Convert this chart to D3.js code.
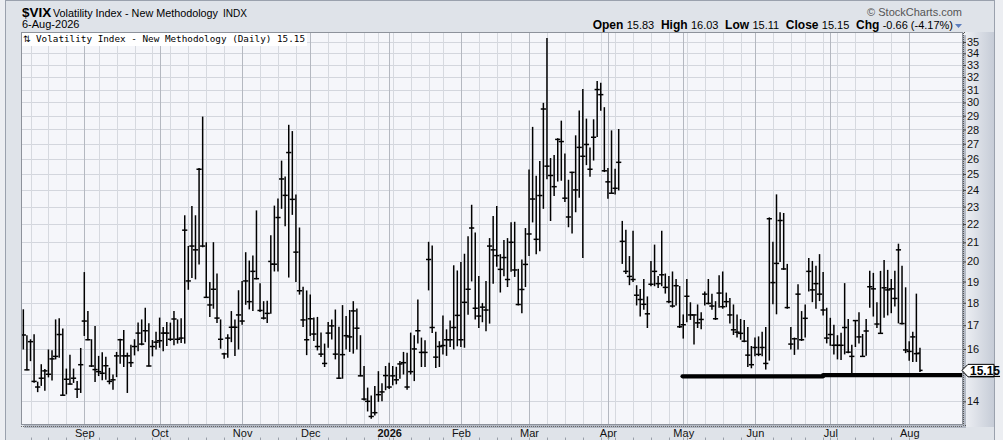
<!DOCTYPE html>
<html><head><meta charset="utf-8">
<script src="https://cdn.jsdelivr.net/npm/d3@7"></script>
<style>body{margin:0;background:#fff}svg{display:block}</style>
</head><body>
<svg id="c" width="1003" height="440"></svg>
<script>
// ---------- DATA ----------
const firstDate = "2025-08-07";
const lastDate = "2026-08-06";
const holidays = ["2025-09-01","2025-11-27","2025-12-25","2026-01-01","2026-01-19","2026-02-16","2026-04-03","2026-05-25","2026-06-19","2026-07-03"];
const monthLabels = ["Sep","Oct","Nov","Dec","2026","Feb","Mar","Apr","May","Jun","Jul","Aug"];
const yTickValues = [14,16,17,18,19,20,21,22,23,24,25,26,27,28,29,30,31,32,33,34,35];
const gridValues = [14,15,16,17,18,19,20,21,22,23,24,25,26,27,28,29,30,31,32,33,34,35];

const highs = [
17.68,16.55,16.38,16.59,14.7,15.37,15.18,15.96,15.93,17.23,
17.28,16.83,15.2,15.75,15.2,14.73,16.02,19.44,17.6,16.38,
16.94,15.7,15.85,15.67,15.23,14.97,15.86,16.4,16.77,15.83,
16.15,16.38,17.09,17.23,17.75,17.06,16.35,16.7,17.31,16.9,
17.12,17.09,17.6,17.23,17.28,22.47,20.78,23.0,22.47,25.35,
28.9,20.98,18.95,20.98,19.37,17.23,15.83,16.59,17.6,17.23,
18.56,19.0,20.45,20.02,20.28,22.75,18.9,18.05,18.07,21.35,
23.03,23.45,25.83,24.8,28.3,27.85,23.69,21.78,18.73,18.55,
18.36,17.31,17.34,16.66,16.2,17.12,17.23,17.67,16.91,17.87,
17.38,17.65,18.05,17.72,16.55,15.3,14.48,14.19,14.54,15.1,
14.64,15.3,15.43,15.3,15.27,15.5,15.86,15.83,16.66,16.55,
18.13,16.45,16.34,21.0,20.8,16.7,16.3,17.4,16.8,17.18,
19.78,19.52,19.95,20.37,21.3,23.08,21.5,19.25,17.97,19.0,
21.2,22.43,23.0,20.35,21.1,21.2,22.07,22.1,19.6,20.07,
21.75,25.25,28.15,24.85,25.8,29.93,35.3,26.0,26.2,27.35,
28.6,26.3,24.6,25.1,27.55,29.35,31.0,28.75,26.7,28.7,
31.65,31.5,29.6,25.35,27.9,25.3,28.0,22.15,21.65,20.25,
21.6,18.8,18.62,19.1,18.27,20.0,20.85,19.25,21.6,19.37,
19.25,19.47,19.1,18.76,17.45,19.1,18.0,17.45,17.9,17.55,
18.5,19.1,18.4,18.05,19.28,19.47,18.45,18.2,17.9,17.45,
17.25,17.2,16.9,16.1,16.45,16.5,16.7,16.9,22.35,21.0,
23.7,22.65,22.6,19.85,16.9,16.45,18.85,17.6,17.9,20.15,
20.0,19.75,20.35,19.45,17.75,17.3,17.0,16.55,16.65,18.9,
17.25,16.15,17.2,17.55,16.6,17.25,19.5,19.4,18.0,19.5,
20.05,19.55,19.1,19.5,20.9,19.75,18.7,16.3,16.7,18.4,
16.03];

const lows = [
16.0,15.17,15.53,14.7,14.35,14.58,14.4,14.9,14.78,15.6,
15.67,14.22,14.27,14.63,14.69,14.14,14.32,16.56,16.38,15.3,
14.73,14.95,14.79,14.81,14.64,14.44,14.91,15.43,15.3,14.32,
15.3,15.76,15.93,16.17,16.3,15.32,15.72,16.0,16.07,15.93,
16.14,16.35,16.17,16.24,16.27,16.24,18.63,19.2,19.13,19.87,
20.76,18.25,17.38,17.75,17.12,16.03,15.63,15.67,16.3,15.74,
16.0,17.04,17.93,17.72,17.65,19.13,17.6,17.27,17.12,17.52,
19.52,19.52,22.9,21.9,19.22,22.55,19.0,18.4,16.94,15.77,
16.56,16.35,15.96,15.7,15.3,16.07,16.41,15.6,14.85,14.85,
16.0,15.9,15.83,16.0,14.94,14.05,13.66,13.41,13.52,14.0,
14.02,14.42,14.47,14.6,14.64,14.85,15.01,14.44,15.01,14.76,
16.24,15.3,15.3,18.6,16.69,15.26,15.3,15.8,15.74,16.1,
16.0,16.13,16.1,16.07,17.48,19.03,17.27,16.9,17.15,16.76,
17.09,18.92,19.75,18.5,19.28,18.76,19.5,19.25,17.9,17.55,
18.76,20.3,22.12,20.4,20.55,22.9,24.7,22.2,23.66,24.55,
24.6,23.3,21.85,21.5,22.7,23.55,20.2,25.6,24.85,25.9,
27.5,29.4,25.15,23.5,23.8,23.75,24.0,19.9,19.4,18.85,
19.0,17.9,17.4,17.7,16.9,18.8,18.8,18.72,18.8,18.45,
18.0,17.8,17.9,16.9,16.45,17.15,17.25,16.2,16.9,16.85,
17.9,17.95,17.7,17.25,17.8,17.75,17.82,17.1,16.6,16.5,
16.4,16.3,15.3,15.25,15.73,15.73,15.73,15.2,15.55,17.95,
17.5,20.0,19.6,17.75,16.0,15.78,16.0,16.35,16.5,18.55,
18.05,17.75,18.1,17.45,16.25,16.15,15.8,15.6,15.58,15.8,
15.85,15.05,16.1,16.25,15.7,15.75,17.8,17.4,16.9,16.65,
17.35,17.45,17.55,17.85,17.1,17.05,15.85,15.55,15.5,15.5,
15.11];

const closes = [
16.58,15.17,16.3,14.73,14.52,14.85,15.13,15.0,15.6,15.7,
16.6,14.22,14.81,14.63,14.85,14.44,15.37,17.18,16.38,15.32,
15.18,15.1,15.04,15.33,14.73,14.79,15.72,16.38,15.72,15.72,
15.45,16.1,16.66,16.2,16.76,15.32,16.1,16.28,16.34,16.66,
16.66,16.4,17.27,16.4,16.45,21.66,19.03,20.8,20.6,25.3,
20.8,18.25,17.9,18.63,17.31,16.4,15.8,16.45,16.91,16.91,
17.45,17.18,19.03,18.05,19.5,19.14,17.65,17.31,17.52,19.86,
19.86,22.37,24.68,23.67,26.4,23.43,20.48,18.56,17.23,16.38,
17.28,16.62,16.1,15.79,15.42,16.66,16.97,15.79,14.85,15.77,
16.55,16.5,17.63,16.87,14.94,14.08,14.0,13.47,13.6,14.24,
14.34,14.95,14.52,14.94,14.79,15.4,15.45,14.52,15.1,16.0,
16.76,15.86,15.86,20.1,16.9,15.67,16.1,16.14,16.38,16.38,
16.9,17.43,16.38,18.02,18.63,21.78,17.75,17.4,17.8,17.67,
20.8,20.6,20.3,19.6,20.2,19.1,21.0,19.57,17.92,18.62,
19.85,21.45,23.45,21.16,23.66,29.5,25.5,24.9,24.2,27.3,
27.15,23.5,22.4,25.1,24.0,26.75,26.15,26.95,25.3,27.45,
31.0,30.6,25.2,24.5,23.8,24.1,25.75,21.05,19.5,19.25,
19.1,18.35,18.15,17.93,17.5,18.87,19.5,18.9,19.33,18.72,
18.05,17.85,18.8,16.93,17.02,18.3,17.45,17.45,17.1,17.25,
18.4,17.97,17.85,17.28,18.45,17.82,18.05,17.45,16.8,16.7,
16.65,16.32,15.75,15.37,16.06,15.78,16.06,15.42,22.3,18.95,
19.9,22.2,19.62,17.78,16.2,16.42,18.4,16.38,17.3,19.5,
18.6,18.9,18.4,17.67,16.45,16.6,16.15,16.15,16.15,16.9,
15.87,15.7,17.2,16.5,15.7,16.75,18.75,18.65,17.05,16.65,
18.7,18.6,18.65,18.2,20.6,17.07,15.96,15.9,16.5,15.81,
15.15];

const opens = [
16.58,15.17,16.3,14.73,14.52,14.85,15.13,15.0,15.6,15.7,
16.6,14.22,14.81,14.63,14.85,14.44,15.37,17.18,16.38,15.32,
15.18,15.1,15.04,15.33,14.73,14.79,15.72,16.38,15.72,15.72,
15.45,16.1,16.66,16.2,16.76,15.32,16.1,16.28,16.34,16.66,
16.66,16.4,17.27,16.4,16.45,21.66,19.03,20.8,20.6,25.3,
20.8,18.25,17.9,18.63,17.31,16.4,15.8,16.45,16.91,16.91,
17.45,17.18,19.03,18.05,19.5,19.14,17.65,17.31,17.52,20.0,
19.86,22.37,24.68,23.67,26.4,23.43,20.48,18.56,17.23,16.38,
17.28,16.62,16.1,15.79,15.42,16.66,16.97,15.79,14.85,15.77,
16.55,16.5,17.63,16.87,14.94,14.08,14.0,13.47,13.6,14.24,
14.34,14.95,14.52,14.94,14.79,15.4,15.45,14.52,15.1,16.0,
16.76,15.86,15.86,20.1,16.9,15.67,16.1,16.14,16.38,16.38,
16.9,17.43,16.38,18.02,18.63,21.78,17.75,17.4,17.8,17.67,
20.8,20.6,20.3,19.6,20.2,19.1,21.0,19.57,17.92,18.62,
19.85,21.45,23.45,21.16,23.66,29.5,25.5,24.9,24.2,27.3,
27.15,23.5,22.4,25.1,24.0,26.75,26.15,26.95,25.3,27.45,
31.0,30.6,25.2,24.5,23.8,24.1,25.75,21.05,19.5,19.25,
19.1,18.35,18.15,17.93,17.5,18.87,19.5,18.9,19.33,18.72,
18.05,17.85,18.8,16.93,17.02,18.3,17.45,17.45,17.1,17.25,
18.4,17.97,17.85,17.28,18.45,17.82,18.05,17.45,16.8,16.7,
16.65,16.32,15.75,15.37,16.06,15.78,16.06,15.42,22.3,18.95,
19.9,22.2,19.62,17.78,16.2,16.42,18.4,16.38,17.3,19.5,
18.6,18.9,18.4,17.67,16.45,16.6,16.15,16.15,16.15,16.9,
15.87,15.7,17.2,16.5,15.7,16.75,18.75,18.65,17.05,16.65,
18.7,18.6,18.65,18.2,20.6,17.07,15.96,15.9,16.5,15.81,
15.83];

// horizontal support line drawn on the chart (bar index from/to, level)
const trendFrom = [183.8, 223];
const trendTo = [223, 262];
const trendLevel = [14.92, 14.97];

const lastValue = 15.15;
const headerValues = {open:"15.83", high:"16.03", low:"15.11", close:"15.15", chg:"-0.66 (-4.17%)"};

// ---------- DATES ----------
const dates = [];
{
  const d = new Date(firstDate + "T00:00:00Z");
  const end = new Date(lastDate + "T00:00:00Z");
  while (d <= end) {
    const dow = d.getUTCDay();
    const iso = d.toISOString().slice(0,10);
    if (dow !== 0 && dow !== 6 && !holidays.includes(iso)) dates.push(new Date(d));
    d.setUTCDate(d.getUTCDate()+1);
  }
}
const n = Math.min(dates.length, highs.length);
const monthIdx = [], weekIdx = [];
for (let i = 1; i < dates.length; i++) {
  if (dates[i].getUTCMonth() !== dates[i-1].getUTCMonth()) monthIdx.push(i);
  else if (dates[i].getUTCDay() <= dates[i-1].getUTCDay() || (dates[i]-dates[i-1]) > 3*864e5) weekIdx.push(i);
}

// ---------- LAYOUT ----------
const svg = d3.select("#c");
const P = {l:21, r:963, t:32, b:425};
const x = d3.scaleLinear().domain([-0.65, 262]).range([P.l, P.r]);
const y = d3.scaleLog().domain([13.18, 35.9]).range([P.b, P.t]);

const defs = svg.append("defs");
const g1 = defs.append("linearGradient").attr("id","axg").attr("x1","0").attr("x2","1");
g1.append("stop").attr("offset","0").attr("stop-color","#eef0f4");
g1.append("stop").attr("offset","1").attr("stop-color","#c6ccd7");
defs.append("clipPath").attr("id","clip").append("rect")
  .attr("x",P.l).attr("y",P.t).attr("width",P.r-P.l).attr("height",P.b-P.t);

// backgrounds
svg.append("rect").attr("width",1003).attr("height",440).attr("fill","#eceef2");
svg.append("rect").attr("x",5.5).attr("y",0.5).attr("width",989).attr("height",441)
  .attr("fill","#dfe3e9").attr("stroke","#9aa1ad");
svg.append("rect").attr("x",P.r+1).attr("y",P.t).attr("width",994-P.r-1).attr("height",P.b-P.t+2)
  .attr("fill","url(#axg)");
// shadow
svg.append("rect").attr("x",P.l+3).attr("y",P.t+3).attr("width",P.r-P.l).attr("height",P.b-P.t)
  .attr("fill","#b3b9c4");
svg.append("rect").attr("x",P.l).attr("y",P.t).attr("width",P.r-P.l).attr("height",P.b-P.t)
  .attr("fill","#f5f6fa");

// grid
const grid = svg.append("g").attr("shape-rendering","crispEdges");
grid.selectAll(".hg").data(gridValues).join("line")
  .attr("x1",P.l).attr("x2",P.r).attr("y1",d=>Math.round(y(d))+0.5).attr("y2",d=>Math.round(y(d))+0.5)
  .attr("stroke","#d3d6dd");
grid.selectAll(".wg").data(weekIdx).join("line")
  .attr("x1",d=>Math.round(x(d))+0.5).attr("x2",d=>Math.round(x(d))+0.5).attr("y1",P.t).attr("y2",P.b)
  .attr("stroke","#d6d9df");
grid.selectAll(".mg").data(monthIdx).join("line")
  .attr("x1",d=>Math.round(x(d))+0.5).attr("x2",d=>Math.round(x(d))+0.5).attr("y1",P.t).attr("y2",P.b)
  .attr("stroke","#b4b8c0");

// bars
const bars = svg.append("g").attr("clip-path","url(#clip)").attr("stroke","#000").attr("stroke-width",1.5);
const idx = d3.range(n);
bars.selectAll(".hl").data(idx).join("line")
  .attr("x1",i=>x(i)).attr("x2",i=>x(i)).attr("y1",i=>y(highs[i])-0.5).attr("y2",i=>y(lows[i])+0.5);
bars.selectAll(".op").data(idx).join("line")
  .attr("x1",i=>x(i)-2.6).attr("x2",i=>x(i)).attr("y1",i=>y(opens[i])).attr("y2",i=>y(opens[i]));
bars.selectAll(".cl").data(idx).join("line")
  .attr("x1",i=>x(i)).attr("x2",i=>x(i)+2.6).attr("y1",i=>y(closes[i])).attr("y2",i=>y(closes[i]));

// support line
svg.append("g").attr("clip-path","url(#clip)").selectAll("line").data(trendFrom).join("line")
  .attr("x1",(d,i)=>x(trendFrom[i])).attr("x2",(d,i)=>x(trendTo[i]))
  .attr("y1",(d,i)=>y(trendLevel[i])).attr("y2",(d,i)=>y(trendLevel[i]))
  .attr("stroke","#000").attr("stroke-width",4.2).attr("stroke-linecap","round");

// plot border
svg.append("rect").attr("x",P.l+0.5).attr("y",P.t+0.5).attr("width",P.r-P.l-1).attr("height",P.b-P.t-1)
  .attr("fill","none").attr("stroke","#8d929b").attr("shape-rendering","crispEdges");

// y axis
const yAxis = svg.append("g").attr("transform",`translate(${P.r},0)`)
  .call(d3.axisRight(y).tickValues(yTickValues).tickFormat(d3.format("d")).tickSize(3).tickPadding(1));
yAxis.select(".domain").attr("stroke","#555").attr("stroke-dasharray","1,1");
yAxis.selectAll(".tick line").attr("stroke","#444");
yAxis.selectAll("text").attr("font-family","Liberation Sans, Arial, sans-serif").attr("font-size",11).attr("fill","#111");

// x axis
const xAxis = svg.append("g").attr("transform",`translate(0,${P.b})`)
  .call(d3.axisBottom(x).tickValues(monthIdx).tickFormat((d,i)=>monthLabels[i]).tickSize(0).tickPadding(4));
xAxis.select(".domain").remove();
xAxis.selectAll("text").attr("font-family","Liberation Sans, Arial, sans-serif").attr("font-size",11).attr("fill","#111")
  .attr("font-weight",(d,i)=>monthLabels[i]==="2026"?"bold":"normal");
// dotted line under plot and small bottom ticks
svg.append("line").attr("x1",P.l).attr("x2",P.r).attr("y1",P.b+1.5).attr("y2",P.b+1.5)
  .attr("stroke","#666").attr("stroke-dasharray","1,1");
svg.append("g").selectAll("line").data(weekIdx.concat(monthIdx)).join("line")
  .attr("x1",d=>Math.round(x(d))+0.5).attr("x2",d=>Math.round(x(d))+0.5).attr("y1",437.5).attr("y2",440)
  .attr("stroke","#9aa0aa");

// last value label
const yl = y(lastValue);
svg.append("path").attr("d",`M${P.r-1},${yl} L${P.r+5},${yl-6} L994,${yl-6} L994,${yl+6.5} L${P.r+5},${yl+6.5} Z`)
  .attr("fill","#fff").attr("stroke","#000").attr("stroke-width",1);
svg.append("text").attr("x",P.r+7).attr("y",yl+4.5).text(lastValue.toFixed(2))
  .attr("font-family","Liberation Sans, Arial, sans-serif").attr("font-size",12).attr("font-weight","bold")
  .attr("text-decoration","underline");

// legend inside plot
svg.append("rect").attr("x",P.l+1).attr("y",P.t+1).attr("width",285).attr("height",13).attr("fill","#fff");
svg.append("text").attr("x",23).attr("y",42).text("⇅").attr("font-size",9).attr("font-family","DejaVu Sans");
svg.append("text").attr("x",36).attr("y",42)
  .text(`Volatility Index - New Methodology (Daily) ${lastValue.toFixed(2)}`)
  .attr("font-family","DejaVu Sans Mono, monospace").attr("font-size",9.5)
  .attr("textLength",269).attr("lengthAdjust","spacingAndGlyphs");

// header
const hf = "Liberation Sans, Arial, sans-serif";
const t1 = svg.append("text").attr("x",22).attr("y",17).attr("font-family",hf);
t1.append("tspan").text("$VIX").attr("font-weight","bold").attr("font-size",13.5);
svg.append("text").attr("x",53).attr("y",17).attr("font-family",hf).attr("font-size",11)
  .text("Volatility Index - New Methodology").attr("textLength",165).attr("lengthAdjust","spacingAndGlyphs");
svg.append("text").attr("x",223).attr("y",17).attr("font-family",hf).attr("font-size",10).text("INDX")
  .attr("textLength",24).attr("lengthAdjust","spacingAndGlyphs");
svg.append("text").attr("x",22).attr("y",28).attr("font-family",hf).attr("font-size",11).text("6-Aug-2026");

svg.append("text").attr("x",962).attr("y",16).attr("text-anchor","end").attr("font-family",hf)
  .attr("font-size",11).attr("fill","#555").text("© StockCharts.com");
const hv = svg.append("text").attr("x",953).attr("y",28.5).attr("text-anchor","end").attr("font-family",hf).attr("font-size",11);
[["Open ",headerValues.open],["High ",headerValues.high],["Low ",headerValues.low],["Close ",headerValues.close],["Chg ",headerValues.chg]]
  .forEach(([k,v],i)=>{
    hv.append("tspan").text((i?"  ":"")+k).attr("font-weight","bold").attr("font-size",12).attr("xml:space","preserve");
    hv.append("tspan").text(v);
  });
svg.append("path").attr("d","M955,24 L962,24 L958.5,28 Z").attr("fill","#5b7dbd");
</script>
</body></html>
